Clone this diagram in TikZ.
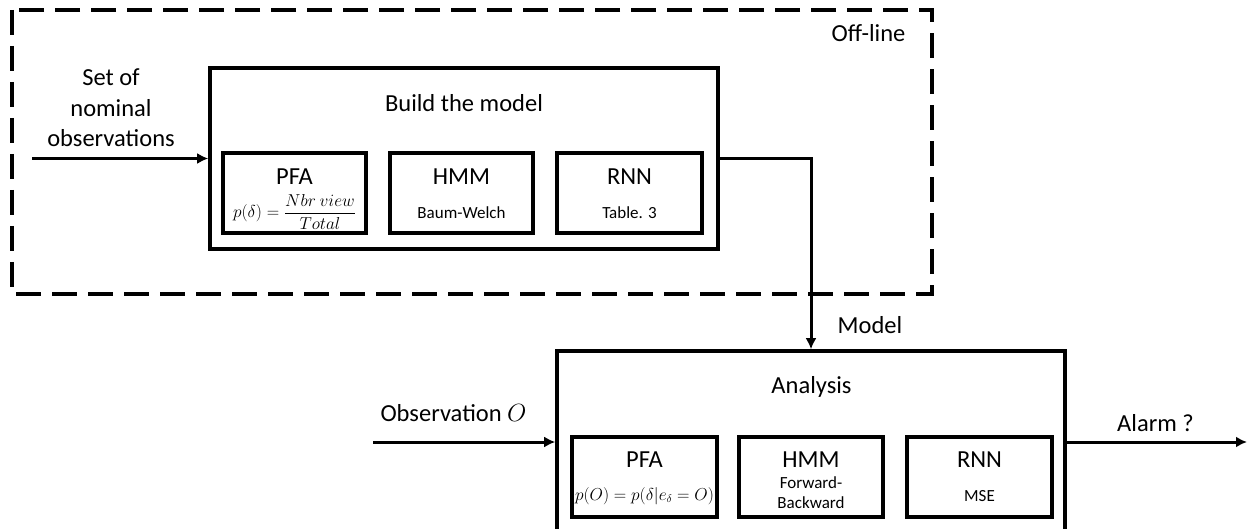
\documentclass[tikz,border=0pt]{standalone}
\usepackage{fontspec}
\setmainfont{Carlito}
\usetikzlibrary{positioning,arrows.meta}
\tikzset{
	blk/.style={draw,line width=3.6pt,inner sep=0pt},
	sub/.style={blk,minimum width=143pt,minimum height=80pt},
	lbl/.style={font=\fontsize{24.5}{30.5}\selectfont,align=center,inner sep=0pt},
	small/.style={font=\fontsize{17}{20}\selectfont,align=center,inner sep=0pt},
	wire/.style={line width=3pt}
}
\begin{document}
\begin{tikzpicture}[>={Latex[length=11pt,width=11pt]},x=1pt,y=-1pt]
	\useasboundingbox (0,0) rectangle (1247,529);
	% off-line part
	\draw[line width=3.8pt,dash pattern=on 25pt off 11pt] (12,10) rectangle (932,294);
	\node[lbl] (offline) at (868.5,33) {Off-line};
	\node[blk,minimum width=508pt,minimum height=181pt] (build) at (464,158.5) {};
	\node[lbl] (buildtitle) at (464,103) {Build the model};
	\node[sub] (pfa1) at (294.5,193) {};
	\node[sub] (hmm1) at (461.5,193) {};
	\node[sub,minimum width=145pt] (rnn1) at (629.5,193) {};
	\node[lbl] (pfa1t) at (294.5,177) {PFA};
	\node[lbl] (hmm1t) at (461.5,177) {HMM};
	\node[lbl] (rnn1t) at (629.5,177) {RNN};
	\node[small] (pfa1s) at (294.5,212) {$p(\delta)=\displaystyle\frac{Nbr\ view}{Total}$};
	\node[small] (hmm1s) at (461.5,213) {Baum-Welch};
	\node[small] (rnn1s) at (629.5,213) {Table. 3};
	\node[lbl] (nominal) at (111,108) {Set of\\nominal\\observations};
	\coordinate (nomin) at (32,158.5);
	\draw[wire,->] (nomin) -- (build.west);
	% on-line part
	\node[blk,minimum width=508pt,minimum height=194pt] (ana) at (811,448) {};
	\node[lbl] (anatitle) at (811.5,387) {Analysis};
	\node[sub,minimum width=145pt] (pfa2) at (644.5,477) {};
	\node[sub,minimum width=144pt] (hmm2) at (811,477) {};
	\node[sub,minimum width=145pt] (rnn2) at (979.5,477) {};
	\node[lbl] (pfa2t) at (644.5,460) {PFA};
	\node[lbl] (hmm2t) at (811,460) {HMM};
	\node[lbl] (rnn2t) at (979.5,460) {RNN};
	\node[small,font=\fontsize{16}{20}\selectfont] (pfa2s) at (644.5,496) {$p(O)=p(\delta|e_\delta=O)$};
	\node[small] (hmm2s) at (811,493) {Forward-\\Backward};
	\node[small] (rnn2s) at (979.5,496) {MSE};
	\node[lbl] (obs) at (453.5,413) {Observation $O$};
	\coordinate (obsin) at (373,442);
	\draw[wire,->] (obsin) -- (obsin -| ana.west);
	\node[lbl] (alarm) at (1155.5,423) {Alarm ?};
	\coordinate (alarmout) at (1247,442);
	\draw[wire,->] (ana.east |- alarmout) -- (alarmout);
	\draw[wire,->] (build.east) -| (ana.north);
	\node[lbl] (model) at (870,325) {Model};
\end{tikzpicture}
\end{document}
